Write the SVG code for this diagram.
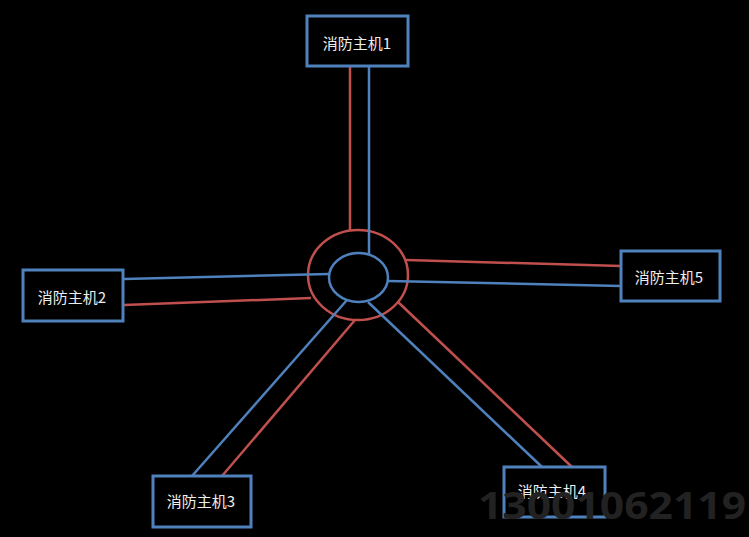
<svg xmlns="http://www.w3.org/2000/svg" width="749" height="537" viewBox="0 0 749 537">
<style>
.bg{fill:#000}
.box{fill:none;stroke:#4f81bd;stroke-width:3}
.lbl{font-family:"Noto Sans CJK SC","Noto Sans",sans-serif;font-size:15px;fill:#eeeeee;text-anchor:middle}
.b{stroke:#4f81bd;stroke-width:2.5;fill:none}
.r{stroke:#c0504d;stroke-width:2.5;fill:none}
.wm{font-family:"Open Sans","Liberation Sans",sans-serif;font-weight:bold;font-size:37px;fill:#222222}
</style>
<rect class="bg" x="0" y="0" width="749" height="537"/>
<g id="connectors">
<ellipse class="r" cx="358" cy="275" rx="50" ry="45"/>
<ellipse class="b" cx="358.5" cy="277.5" rx="29.5" ry="24.5"/>
<line class="r" x1="350" y1="66" x2="350" y2="231"/>
<line class="b" x1="369" y1="66" x2="369" y2="254"/>
<line class="b" x1="124" y1="279" x2="329" y2="274"/>
<line class="r" x1="124" y1="305" x2="311" y2="298"/>
<line class="r" x1="406" y1="260" x2="621" y2="266"/>
<line class="b" x1="388" y1="281" x2="621" y2="286"/>
<line class="b" x1="347" y1="300" x2="192" y2="476"/>
<line class="r" x1="355" y1="320" x2="222" y2="476"/>
<line class="b" x1="368" y1="302" x2="542" y2="467"/>
<line class="r" x1="398" y1="302" x2="572" y2="467"/>
</g>
<g id="node1"><rect class="box" x="307" y="16" width="101" height="50"/><text class="lbl" x="357" y="49">消防主机1</text></g>
<g id="node2"><rect class="box" x="23" y="270" width="100" height="51"/><text class="lbl" x="72" y="303">消防主机2</text></g>
<g id="node3"><rect class="box" x="153" y="476" width="98" height="51"/><text class="lbl" x="201" y="507">消防主机3</text></g>
<g id="node4"><rect class="box" x="504" y="467" width="101" height="50"/><text class="lbl" x="552" y="497">消防主机4</text></g>
<g id="node5"><rect class="box" x="621" y="251" width="99" height="50"/><text class="lbl" x="669" y="283">消防主机5</text></g>
<text class="wm" x="478" y="519" textLength="268" lengthAdjust="spacingAndGlyphs">13001062119</text>
</svg>
